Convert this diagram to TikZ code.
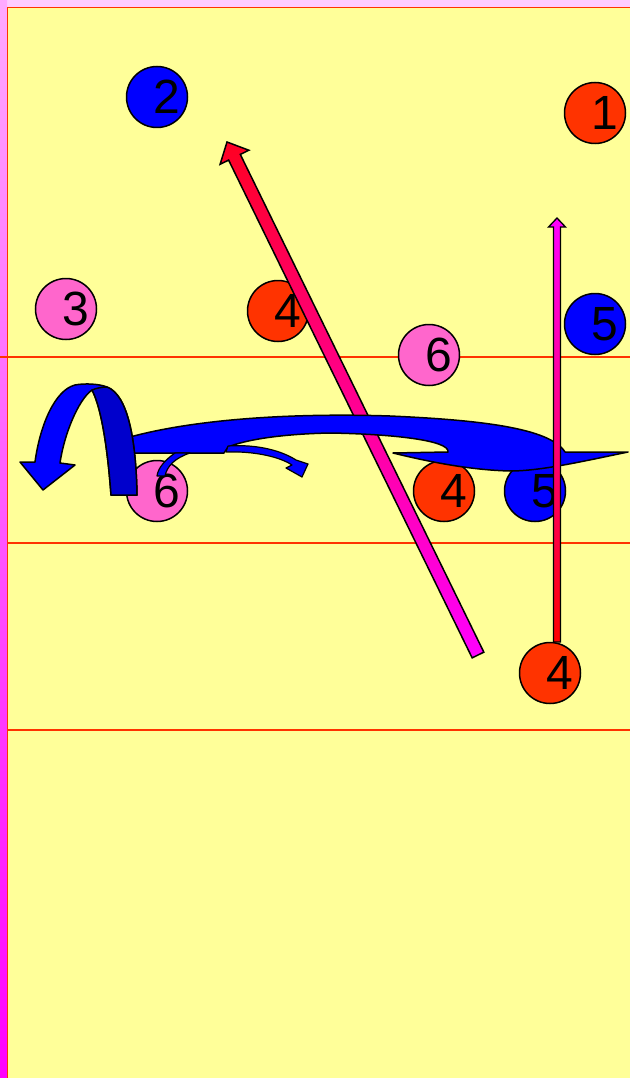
\documentclass[tikz,border=0pt]{standalone}
\usepackage{fontspec}
\newfontfamily\digitfont{Liberation Sans}
\usetikzlibrary{calc}

\definecolor{padyellow}{HTML}{FFFF99}
\definecolor{linered}{HTML}{FF3300}
\definecolor{playerblue}{HTML}{0000FF}
\definecolor{playerorange}{HTML}{FF3300}
\definecolor{playerpink}{HTML}{FF66CC}
\definecolor{backblue}{HTML}{0000CC}
\definecolor{stripetop}{HTML}{FFCCFF}
\definecolor{stripepink}{HTML}{FFAAFF}
\definecolor{stripemagenta}{HTML}{FF00FF}
\definecolor{arrowred}{HTML}{FF0022}

\begin{document}
\begin{tikzpicture}[x=1pt, y=-1pt,
  player/.style={circle, draw=black, line width=1.5pt, fill=#1,
    minimum size=61pt, inner sep=0pt,
    font=\digitfont\fontsize{48}{48}\selectfont},
  court line/.style={linered, line width=1.2pt},
  blue shape/.style={draw=black, line width=1.5pt, fill=playerblue, line join=round},
  move arrow/.style={draw=black, line width=1.5pt, line join=miter},
]
\useasboundingbox (0,0) rectangle (630,1078);

% background and frame
\fill[padyellow] (0,0) rectangle (630,1078);
\fill[stripetop] (0,0) rectangle (630,7);
\shade[top color=stripepink, bottom color=stripemagenta] (0,0) rectangle (7,1078);
\draw[court line] (7.5,1078) -- (7.5,7.5) -- (630,7.5);

\draw[court line] (0,357) -- (630,357);
\draw[court line] (7.5,543) -- (630,543);
\draw[court line] (7.5,730) -- (630,730);

% players
\foreach \name/\x/\y/\col/\num in {
  n2/157/97/playerblue/2,
  n1/595/113/playerorange/1,
  n3/66/309/playerpink/3,
  n4a/278/311/playerorange/4,
  n5a/595/324/playerblue/5,
  n6a/429/355/playerpink/6,
  n6b/157/491/playerpink/6,
  n4b/444/491/playerorange/4,
  n5b/535/491/playerblue/5,
  n4c/550/673/playerorange/4} {
    \node[player=\col] (\name) at (\x,\y) {\makebox[0pt]{\hspace{19pt}\num}};
}

% long diagonal arrow
\coordinate (bigtail) at (478,655);
\coordinate (bigtip) at (227,142);
\coordinate (bighead) at ($(bigtip)!17pt!(bigtail)$);
\shade[move arrow, top color=arrowred, bottom color=stripemagenta]
  ($(bigtail)!6.5pt!90:(bigtip)$) -- ($(bighead)!6.5pt!-90:(bigtail)$)
  -- ($(bighead)!16pt!-90:(bigtail)$) -- (bigtip)
  -- ($(bighead)!16pt!90:(bigtail)$) -- ($(bighead)!6.5pt!90:(bigtail)$)
  -- ($(bigtail)!6.5pt!-90:(bigtip)$) -- cycle;

% long curved blue arrow
\filldraw[blue shape]
  (130,437) .. controls (200,418) and (300,413) .. (390,416)
  .. controls (480,420) and (550,428) .. (565,452) -- (628,452)
  .. controls (580,462) and (540,471) .. (510,471)
  .. controls (470,470) and (430,462) .. (393,453) -- (448,452)
  .. controls (450,440) and (390,434) .. (330,433)
  .. controls (280,434) and (245,440) .. (228,447) -- (224,453)
  -- (130,453) -- cycle;

% small blue arrows
\filldraw[blue shape, line width=1.2pt]
  (228,446) .. controls (258,444) and (282,451) .. (296,460)
  -- (308,464) -- (302,477) -- (286,468) -- (292,465)
  .. controls (280,457) and (255,451) .. (226,452) -- cycle;
\filldraw[blue shape, line width=1.2pt]
  (175,453) .. controls (165,460) and (158,468) .. (157,476)
  -- (165,476) .. controls (167,466) and (175,458) .. (190,453) -- cycle;

% U-turn arrow
\filldraw[blue shape]
  (111,495) .. controls (107,440) and (100,405) .. (92,390)
  .. controls (78,400) and (64,435) .. (60,463)
  -- (75,465) -- (43,490) -- (20,462) -- (35,462)
  .. controls (40,425) and (55,390) .. (75,385)
  .. controls (85,383) and (100,384) .. (107,387)
  .. controls (128,395) and (136,440) .. (137,495) -- cycle;
\filldraw[blue shape, fill=backblue]
  (92,390) .. controls (97,388) and (102,387) .. (107,387)
  .. controls (128,395) and (136,440) .. (137,495)
  -- (111,495) .. controls (107,440) and (100,405) .. (92,390) -- cycle;

% vertical arrow
\coordinate (vtail) at (557,642);
\coordinate (vtip) at (557,218);
\shade[move arrow, line width=1.3pt, top color=stripemagenta, bottom color=red]
  (553.5,642) -- (553.5,227) -- (548.5,227) -- (vtip)
  -- (565.5,227) -- (560.5,227) -- (560.5,642) -- cycle;

\end{tikzpicture}
\end{document}
